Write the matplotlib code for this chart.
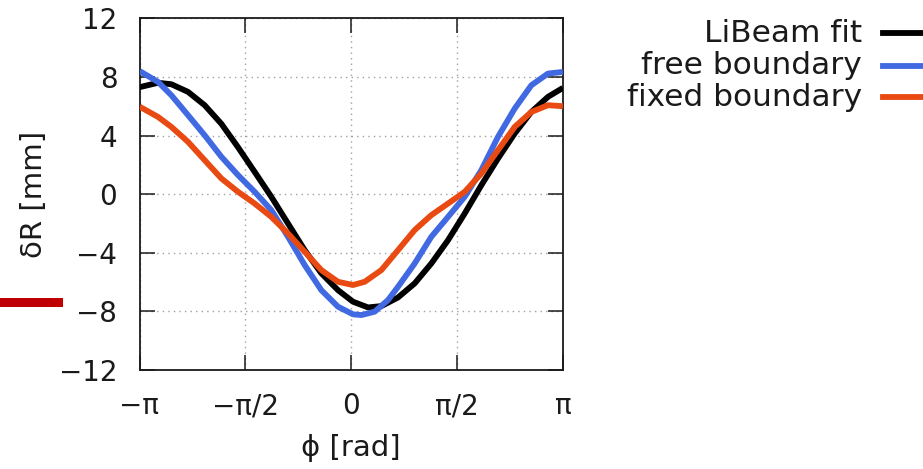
import numpy as np
import matplotlib
matplotlib.use("Agg")
import matplotlib.pyplot as plt
from matplotlib.lines import Line2D
from matplotlib.patches import Rectangle

# ─── data (phi in rad, dR in mm) ──────────────────────────────
phi_fit = [-3.14, -2.867, -2.669, -2.422, -2.175, -1.927, -1.680, -1.433,
           -1.186, -0.939, -0.691, -0.444, -0.197, 0.026, 0.249, 0.447,
           0.694, 0.941, 1.188, 1.436, 1.683, 1.930, 2.177, 2.425, 2.672,
           2.919, 3.14]
dR_fit = [7.3, 7.6, 7.5, 6.98, 6.07, 4.8, 3.2, 1.52,
          -0.18, -2.0, -3.82, -5.4, -6.55, -7.34, -7.73, -7.64,
          -7.05, -6.09, -4.73, -3.14, -1.32, 0.61, 2.43, 4.14, 5.61,
          6.64, 7.25]

phi_free = [-3.14, -2.867, -2.669, -2.422, -2.175, -1.927, -1.680, -1.433,
            -1.186, -0.939, -0.691, -0.444, -0.197, 0.026, 0.150, 0.348,
            0.545, 0.694, 0.941, 1.188, 1.436, 1.683, 1.930, 2.177, 2.425,
            2.672, 2.919, 3.14]
dR_free = [8.4, 7.66, 6.75, 5.39, 4.02, 2.55, 1.3, 0.16,
           -1.09, -2.9, -4.84, -6.55, -7.68, -8.2, -8.25, -8.02,
           -7.23, -6.32, -4.73, -2.91, -1.55, -0.18, 1.64, 3.91, 5.84,
           7.43, 8.23, 8.34]

phi_fixed = [-3.14, -2.867, -2.669, -2.422, -2.175, -1.927, -1.680, -1.433,
             -1.186, -0.939, -0.691, -0.444, -0.197, 0.026, 0.199, 0.447,
             0.694, 0.941, 1.188, 1.436, 1.683, 1.930, 2.177, 2.425, 2.672,
             2.919, 3.14]
dR_fixed = [5.97, 5.27, 4.59, 3.57, 2.32, 1.07, 0.16, -0.64,
            -1.55, -2.68, -3.93, -5.18, -5.98, -6.2, -5.98, -5.18,
            -3.82, -2.45, -1.43, -0.64, 0.16, 1.41, 3.0, 4.59, 5.61,
            6.07, 6.0]

labels = ["LiBeam fit", "free boundary", "fixed boundary"]
colors = ["#000000", "#4169e1", "#e84a12"]

xtick_vals = [-np.pi, -np.pi / 2, 0, np.pi / 2, np.pi]
xtick_labels = ["\u2212\u03c0", "\u2212\u03c0/2", "0", "\u03c0/2", "\u03c0"]
ytick_vals = [-12, -8, -4, 0, 4, 8, 12]

# ─── figure ───────────────────────────────────────────────────
W, H = 923, 469
fig = plt.figure(figsize=(W / 100, H / 100), dpi=100)
ax = fig.add_axes([139.5 / W, 1 - 370 / H, (563 - 139.5) / W, (370 - 18.3) / H])

series = [(phi_fit, dR_fit), (phi_free, dR_free), (phi_fixed, dR_fixed)]
for (x, y), c in zip(series, colors):
    ax.plot(x, y, color=c, lw=4.2, solid_capstyle='butt',
            solid_joinstyle='round', zorder=3)

ax.set_xlim(-np.pi, np.pi)
ax.set_ylim(-12, 12)
ax.set_xticks(xtick_vals)
ax.set_xticklabels(xtick_labels)
ax.set_yticks(ytick_vals)
ax.set_yticklabels([f"{v}".replace("-", "\u2212") for v in ytick_vals])

ax.grid(True, color='#a0a0a0', ls=(0, (1, 3)), lw=1.0)
ax.tick_params(direction='in', top=True, right=True, length=10.5, width=1.1,
               labelsize=20, colors='#1a1a1a')
ax.tick_params(axis='x', pad=16)
ax.tick_params(axis='y', pad=16)
for sp in ax.spines.values():
    sp.set_linewidth(1.3)
    sp.set_color('#1a1a1a')

ax.set_xlabel("\u03d5 [rad]", fontsize=21, color='#1a1a1a', labelpad=10)
ax.set_ylabel("\u03b4R [mm]", fontsize=21, color='#1a1a1a', labelpad=8)

# legend, gnuplot style: text right-aligned, sample to the right
rows_y = [33, 66, 97]
for lab, c, ry in zip(labels, colors, rows_y):
    fy = 1 - ry / H
    fig.text(862 / W, fy, lab, ha='right', va='center', fontsize=22.5,
             color='#1a1a1a')
    fig.add_artist(Line2D([883 / W, 960 / W], [fy, fy], color=c, lw=4.2,
                          transform=fig.transFigure))

# stray dark-red bar at the left edge
fig.add_artist(Rectangle((0, 1 - 306.7 / H), 62.5 / W, 9 / H,
                         transform=fig.transFigure, facecolor='#c00000',
                         edgecolor='none'))

fig.savefig("out.png", dpi=100)
